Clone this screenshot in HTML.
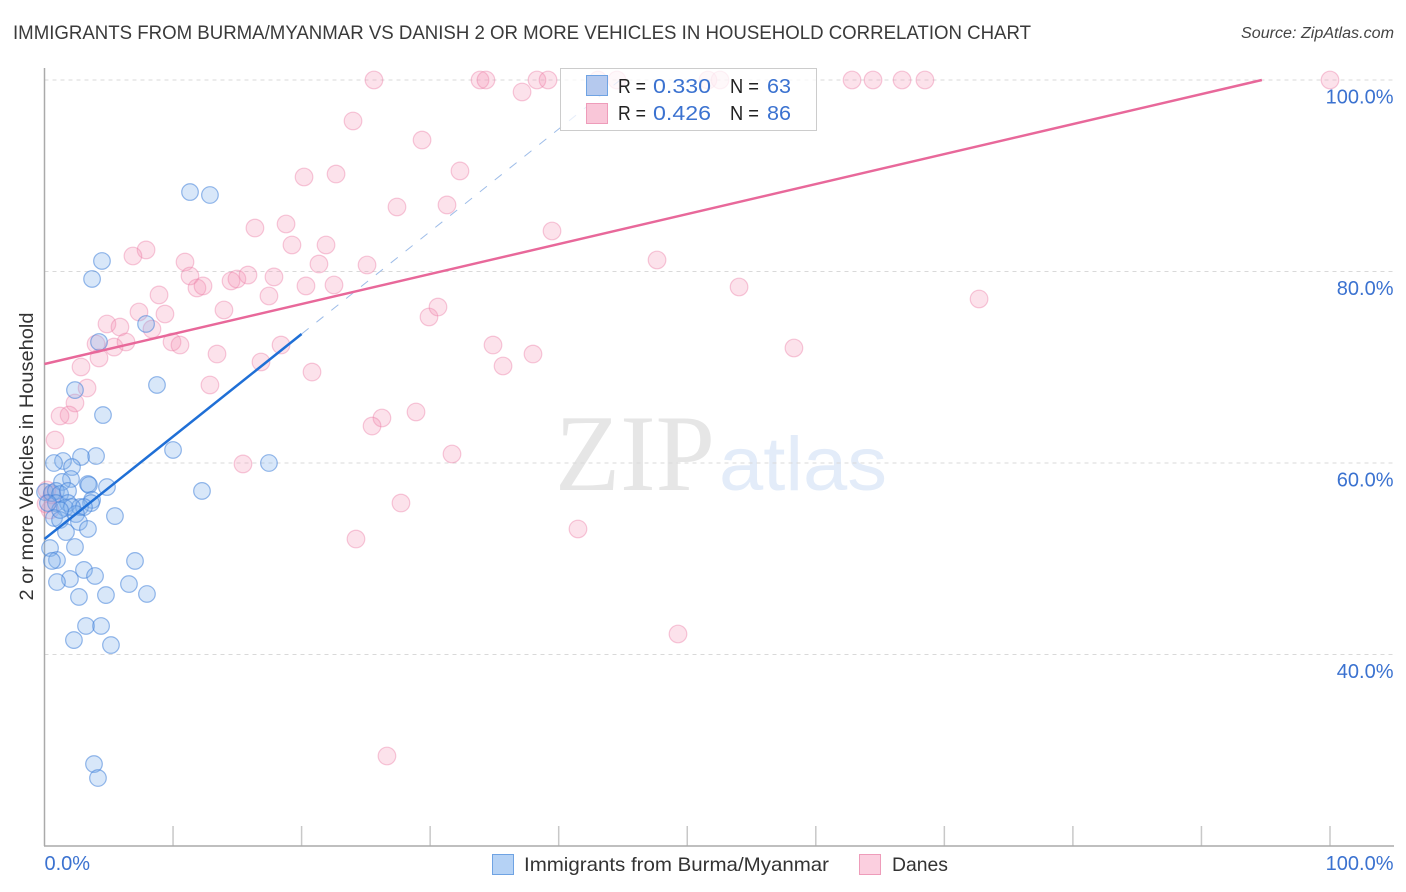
<!DOCTYPE html>
<html lang="en">
<head>
<meta charset="utf-8">
<title>Immigrants from Burma/Myanmar vs Danish 2 or more Vehicles in Household Correlation Chart</title>
<style>
html,body{margin:0;padding:0;background:#fff;width:1406px;height:892px;overflow:hidden}
svg{display:block;font-family:"Liberation Sans",sans-serif}
</style>
</head>
<body>
<svg id="chart" width="1406" height="892" viewBox="0 0 1406 892" xmlns="http://www.w3.org/2000/svg">
  <rect x="0" y="0" width="1406" height="892" fill="#fff"/>
  <text x="13" y="39" font-size="19.5" fill="#3a3a3a" textLength="1018" lengthAdjust="spacingAndGlyphs">IMMIGRANTS FROM BURMA/MYANMAR VS DANISH 2 OR MORE VEHICLES IN HOUSEHOLD CORRELATION CHART</text>
  <text x="1394" y="38" font-size="15.5" font-style="italic" fill="#444" text-anchor="end" textLength="153" lengthAdjust="spacingAndGlyphs">Source: ZipAtlas.com</text>
  <g>
    <text x="555" y="490" font-family="'Liberation Serif',serif" font-size="109" fill="#e6e6e6" textLength="160" lengthAdjust="spacingAndGlyphs">ZIP</text>
    <text x="719" y="490" font-size="76" fill="#e3ecf9" textLength="168" lengthAdjust="spacingAndGlyphs">atlas</text>
  </g>
  <g id="grid"></g>
  <g id="xticks"></g>
  <line x1="44.5" y1="68" x2="44.5" y2="846" stroke="#aaa" stroke-width="1.5"/>
  <line x1="44" y1="846" x2="1394" y2="846" stroke="#aaa" stroke-width="1.5"/>
  <g id="danes-points"></g>
  <g id="burma-points"></g>
  <g id="fit-lines"></g>
  <g id="ylabels"></g>
  <g id="xlabels"></g>
  <text transform="translate(33,456.5) rotate(-90)" font-size="19.5" fill="#333" text-anchor="middle" textLength="288" lengthAdjust="spacingAndGlyphs">2 or more Vehicles in Household</text>

  <g>
    <rect x="560.5" y="68.5" width="256" height="62" fill="#fff" fill-opacity="0.75" stroke="#ccc" stroke-width="1"/>
    <rect x="586.5" y="75.5" width="21" height="20" fill="#b5c9ee" stroke="#6fa3e3" stroke-width="1"/>
    <rect x="586.5" y="103.5" width="21" height="20" fill="#f9c6d8" stroke="#ee9cba" stroke-width="1"/>
    <text x="618" y="93" font-size="20" fill="#222" textLength="28" lengthAdjust="spacingAndGlyphs">R =</text>
    <text x="653" y="93" font-size="20" fill="#3b72d0" textLength="58" lengthAdjust="spacingAndGlyphs">0.330</text>
    <text x="730" y="93" font-size="20" fill="#222" textLength="29" lengthAdjust="spacingAndGlyphs">N =</text>
    <text x="767" y="93" font-size="20" fill="#3b72d0" textLength="24" lengthAdjust="spacingAndGlyphs">63</text>
    <text x="618" y="120" font-size="20" fill="#222" textLength="28" lengthAdjust="spacingAndGlyphs">R =</text>
    <text x="653" y="120" font-size="20" fill="#3b72d0" textLength="58" lengthAdjust="spacingAndGlyphs">0.426</text>
    <text x="730" y="120" font-size="20" fill="#222" textLength="29" lengthAdjust="spacingAndGlyphs">N =</text>
    <text x="767" y="120" font-size="20" fill="#3b72d0" textLength="24" lengthAdjust="spacingAndGlyphs">86</text>
  </g>

  <g>
    <rect x="492.5" y="854.5" width="21" height="20" fill="#b5d2f5" stroke="#6fa3e3" stroke-width="1"/>
    <text x="524" y="871" font-size="19.5" fill="#333" textLength="305" lengthAdjust="spacingAndGlyphs">Immigrants from Burma/Myanmar</text>
    <rect x="859.5" y="854.5" width="21" height="20" fill="#fbcfdf" stroke="#ee9cba" stroke-width="1"/>
    <text x="892" y="871" font-size="19.5" fill="#333" textLength="56" lengthAdjust="spacingAndGlyphs">Danes</text>
  </g>
</svg>
<script>
const xTickValues = [0, 10, 20, 30, 40, 50, 60, 70, 80, 90, 100];
const yTickValues = [100, 80, 60, 40];
const yTickLabels = ['100.0%', '80.0%', '60.0%', '40.0%'];
const xEndValues = [0, 100];
const xEndLabels = ['0.0%', '100.0%'];

const burmaX = [11.32,12.87,4.47,3.70,7.90,4.24,8.75,2.37,4.55,10.00,4.01,2.84,1.44,0.74,2.14,17.46,12.25,4.86,2.06,1.36,3.38,3.46,0.04,0.58,0.89,1.21,1.83,3.70,3.62,0.89,1.83,1.59,2.76,3.07,5.48,0.74,1.21,2.45,2.68,3.38,1.67,2.37,0.43,0.97,0.58,7.04,3.07,3.93,1.98,0.97,6.57,7.97,4.78,2.68,3.23,4.40,2.29,5.17,3.85,4.16,2.14,1.21,0.27];
const burmaY = [88.30,87.99,81.10,79.22,74.52,72.64,68.15,67.62,65.01,61.36,60.73,60.63,60.21,60.00,59.58,60.00,57.08,57.49,58.33,58.02,57.81,57.70,56.97,56.87,57.08,56.76,57.08,56.14,55.82,55.82,55.82,55.30,55.40,55.40,54.46,54.26,54.05,54.67,53.84,53.11,52.79,51.23,51.12,49.87,49.77,49.77,48.83,48.20,47.89,47.57,47.36,46.32,46.21,46.01,42.98,42.98,41.51,40.99,28.56,27.10,55.40,55.09,55.82];

const danesX = [25.63,33.88,34.34,37.15,38.31,39.17,43.06,44.53,51.61,52.55,62.82,64.45,66.71,68.49,100.0,24.00,29.37,32.32,20.19,22.68,31.31,27.42,39.48,16.37,18.79,19.25,21.90,25.09,21.35,7.90,6.88,10.93,11.32,11.86,12.33,14.51,14.97,15.83,17.85,17.46,20.34,22.52,47.65,54.03,72.70,8.91,9.37,7.35,13.96,4.86,5.87,8.36,4.01,5.41,6.34,9.92,10.54,13.42,18.40,16.84,4.24,2.84,20.81,3.31,12.87,2.37,1.91,1.21,0.82,29.91,30.61,34.89,38.00,35.67,58.30,28.90,26.25,25.48,31.70,15.44,27.73,24.23,41.50,49.28,26.64,0.19,0.58,0.43,0.12];
const danesY = [100,100,100,98.75,100,100,100,100,100,100,100,100,100,100,100,95.72,93.73,90.50,89.87,90.18,86.95,86.74,84.23,84.54,84.96,82.77,82.77,80.68,80.78,82.25,81.62,80.99,79.53,78.28,78.49,79.01,79.22,79.63,79.43,77.44,78.49,78.59,81.20,78.38,77.13,77.55,75.56,75.77,75.98,74.52,74.20,73.99,72.43,72.11,72.64,72.64,72.32,71.38,72.32,70.55,70.97,70.03,69.50,67.83,68.15,66.27,65.01,64.91,62.40,75.25,76.29,72.32,71.38,70.13,72.01,65.33,64.70,63.86,60.94,59.90,55.82,52.06,53.11,42.14,29.40,57.18,56.66,55.09,55.72];

const burmaFitIntercept = 52.06;
const burmaFitSlope = 1.0705;
const burmaFitSolidEnd = 20;
const danesFitIntercept = 70.34;
const danesFitSlope = 0.3132;

const SVGNS = 'http://www.w3.org/2000/svg';
function xScale(v) { return 44.5 + v * 12.855; }
function yScale(v) { return 80 + (100 - v) * 9.575; }
function make(tag, parentId, attrs) {
  const el = document.createElementNS(SVGNS, tag);
  for (const k in attrs) el.setAttribute(k, attrs[k]);
  document.getElementById(parentId).appendChild(el);
  return el;
}
function xAtFull(intercept, slope) { return Math.min(100, (100 - intercept) / slope); }

yTickValues.forEach(function (v, i) {
  const g = make('line', 'grid', {x1: 44.5, x2: 1394, y1: yScale(v), y2: yScale(v), stroke: '#d9d9d9', 'stroke-width': 1, 'stroke-dasharray': '4 4'});
  
  
  const t = make('text', 'ylabels', {x: 1393.5, y: yScale(v) + 23.5, 'font-size': 20, fill: '#3b72d0', 'text-anchor': 'end'});
  t.textContent = yTickLabels[i];
  
  
});

xTickValues.forEach(function (v) {
  if (v === 0) return;
  const l = make('line', 'xticks', {x1: xScale(v), x2: xScale(v), y1: 826, y2: 846, stroke: '#c8c8c8', 'stroke-width': 1.5});
  
  
});

xEndValues.forEach(function (v, i) {
  const t = make('text', 'xlabels', {x: i === 0 ? xScale(v) : 1393.5, y: 870, 'font-size': 20, fill: '#3b72d0', 'text-anchor': i === 0 ? 'start' : 'end'});
  t.textContent = xEndLabels[i];
  
  
});

danesX.forEach(function (v, i) {
  const c = make('circle', 'danes-points', {cx: xScale(v), cy: yScale(danesY[i]), r: 8.8, fill: '#f48fb1', 'fill-opacity': 0.26, stroke: '#ec7fa6', 'stroke-opacity': 0.42, 'stroke-width': 1.2});
  
  
});

burmaX.forEach(function (v, i) {
  const c = make('circle', 'burma-points', {cx: xScale(v), cy: yScale(burmaY[i]), r: 8.3, fill: '#7fb0ec', 'fill-opacity': 0.3, stroke: '#3f80d8', 'stroke-opacity': 0.55, 'stroke-width': 1.2});
  
  
});

const burmaDashEnd = xAtFull(burmaFitIntercept, burmaFitSlope);
const burmaDash = make('line', 'fit-lines', {
  x1: xScale(burmaFitSolidEnd), y1: yScale(burmaFitIntercept + burmaFitSlope * burmaFitSolidEnd),
  x2: xScale(burmaDashEnd), y2: yScale(burmaFitIntercept + burmaFitSlope * burmaDashEnd),
  stroke: '#5b8fd8', 'stroke-width': 1, 'stroke-dasharray': '9 10', 'stroke-opacity': 0.6
});



const burmaLine = make('line', 'fit-lines', {
  x1: xScale(0), y1: yScale(burmaFitIntercept),
  x2: xScale(burmaFitSolidEnd), y2: yScale(burmaFitIntercept + burmaFitSlope * burmaFitSolidEnd),
  stroke: '#1f6fd6', 'stroke-width': 2.5
});



const danesEnd = xAtFull(danesFitIntercept, danesFitSlope);
const danesLine = make('line', 'fit-lines', {
  x1: xScale(0), y1: yScale(danesFitIntercept),
  x2: xScale(danesEnd), y2: yScale(danesFitIntercept + danesFitSlope * danesEnd),
  stroke: '#e8689a', 'stroke-width': 2.5
});


</script>
</body>
</html>
